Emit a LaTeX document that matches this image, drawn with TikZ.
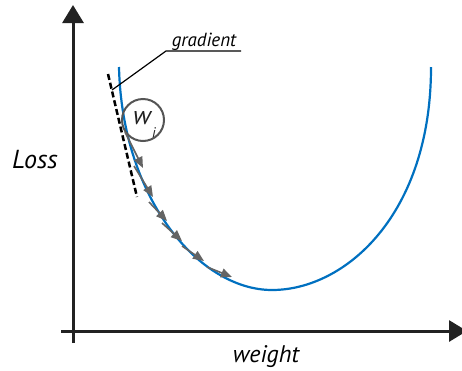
\documentclass[tikz,border=0pt]{standalone}
\usepackage{fontspec}
\setmainfont{PT Sans}
\usetikzlibrary{arrows.meta}
\definecolor{curveblue}{RGB}{0,112,192}
\definecolor{axisdark}{RGB}{34,34,34}
\definecolor{stepgray}{RGB}{100,100,100}
\definecolor{circgray}{RGB}{85,85,85}
\begin{document}
\begin{tikzpicture}[x=1pt,y=-1pt,
  axisline/.style={draw=axisdark,line width=3pt,-{Triangle[length=18pt,width=21pt]}},
  axistxt/.style={inner sep=0pt,text=black},
  losscurve/.style={draw=curveblue,line width=2.2pt},
  steparrow/.style={draw=stepgray,fill=stepgray,line width=1.6pt,-{Triangle[length=11pt,width=9pt]}},
  gradline/.style={draw=black,line width=2.5pt,dash pattern=on 6pt off 3pt},
  leader/.style={draw=black,line width=1.2pt}]
\useasboundingbox (0,0) rectangle (462,370);
% axes
\coordinate (ybot) at (73,343);
\coordinate (ytop) at (73,5);
\coordinate (xleft) at (61,331);
\coordinate (xright) at (467,331);
\draw[axisline] (ybot) -- (ytop);
\draw[axisline] (xleft) -- (xright);
% labels
\node[axistxt,anchor=base,font=\itshape\fontsize{26}{26}\selectfont] (loss) at (35,168) {Loss};
\node[axistxt,anchor=base,font=\itshape\fontsize{24}{24}\selectfont] (weight) at (266,362) {weight};
% loss curve
\coordinate (ctop) at (119,67);
\coordinate (cmin) at (272,290);
\coordinate (cright) at (431,67);
\draw[losscurve] (ctop) .. controls (122,200) and (200,290) .. (cmin)
  .. controls (345,290) and (431,215) .. (cright);
% gradient tangent
\coordinate (g1) at (108,74);
\coordinate (g2) at (137,197);
\draw[gradline] (g1) -- (g2);
% leader and label
\coordinate (lead) at (112,90);
\coordinate (bend) at (166,51);
\coordinate (lend) at (241,51);
\draw[leader] (lead) -- (bend) -- (lend);
\node[axistxt,anchor=base,font=\itshape\fontsize{19}{19}\selectfont] (grad) at (204,46) {gradient};
% w_i circle
\node[circle,draw=circgray,line width=2pt,minimum size=42pt,inner sep=0pt] (wi) at (143,120) {};
\node[axistxt,text=axisdark,anchor=base,font=\itshape\fontsize{26}{26}\selectfont] (wtxt) at (142,124) {w};
\node[axistxt,text=axisdark,anchor=base,font=\itshape\fontsize{14}{14}\selectfont] (itxt) at (154,137) {i};
% descent steps
\coordinate (s0) at (125,132);
\coordinate (t0) at (143,168);
\coordinate (s1) at (134,166);
\coordinate (t1) at (153,197);
\coordinate (s2) at (149,202);
\coordinate (t2) at (167,221);
\coordinate (s3) at (162,223);
\coordinate (t3) at (182,241);
\coordinate (s4) at (182,246);
\coordinate (t4) at (204,261);
\coordinate (s5) at (207,267);
\coordinate (t5) at (232,277);
\draw[steparrow] (s0) -- (t0);
\draw[steparrow] (s1) -- (t1);
\draw[steparrow] (s2) -- (t2);
\draw[steparrow] (s3) -- (t3);
\draw[steparrow] (s4) -- (t4);
\draw[steparrow] (s5) -- (t5);
\end{tikzpicture}
\end{document}
